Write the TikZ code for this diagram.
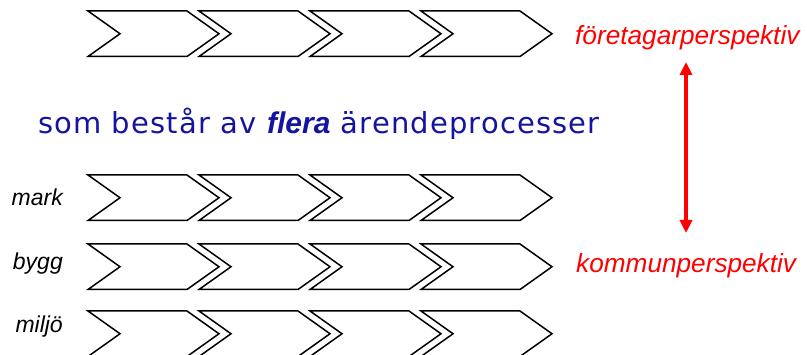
\documentclass[tikz,border=0pt]{standalone}
\usepackage{fontspec}
\setmainfont{Liberation Sans}
\newfontfamily\bluefont[LetterSpace=4]{DejaVu Sans}
\usepackage{tikz}
\usetikzlibrary{arrows.meta}
\definecolor{procblue}{RGB}{20,20,160}

\tikzset{
	chevron/.style={draw=black, line width=1.5pt, line join=miter, fill=white},
	rowlabel/.style={anchor=base east, inner sep=0pt, font=\itshape\fontsize{23}{25}\selectfont},
	persp/.style={anchor=base west, inner sep=0pt, text=red, font=\itshape\fontsize{26.2}{28}\selectfont}
}

\begin{document}
\begin{tikzpicture}[x=1pt, y=-1pt]
		\useasboundingbox (0,0) rectangle (807,355);
		\foreach \top in {11,175,244,311} {
			\foreach \left in {88,199,310,421} {
				\draw[chevron] (\left,\top) -- ++(99,0) -- ++(32,22.75) -- ++(-32,22.75)
					-- ++(-99,0) -- ++(32,-22.75) -- cycle;
			}
		}
		\node[rowlabel] (mark) at (63,206) {mark};
		\node[rowlabel] (bygg) at (63,270) {bygg};
		\node[rowlabel] (miljo) at (63,333) {miljö};
		\node[anchor=base west, inner sep=0pt, text=procblue, font=\bluefont\fontsize{29}{32}\selectfont] (flera) at (38,134)
			{som består av {\rmfamily\fontsize{30}{32}\selectfont\bfseries\itshape flera} ärendeprocesser};
		\node[persp] (foretag) at (575,45) {företagarperspektiv};
		\node[persp] (kommun) at (576,273) {kommunperspektiv};
		\coordinate (uppe) at (686,62);
		\coordinate (nere) at (686,233);
		\draw[red, line width=4pt, {Triangle[length=13pt,width=12pt]}-{Triangle[length=13pt,width=12pt]}] (uppe) -- (nere);
	\end{tikzpicture}
\end{document}
